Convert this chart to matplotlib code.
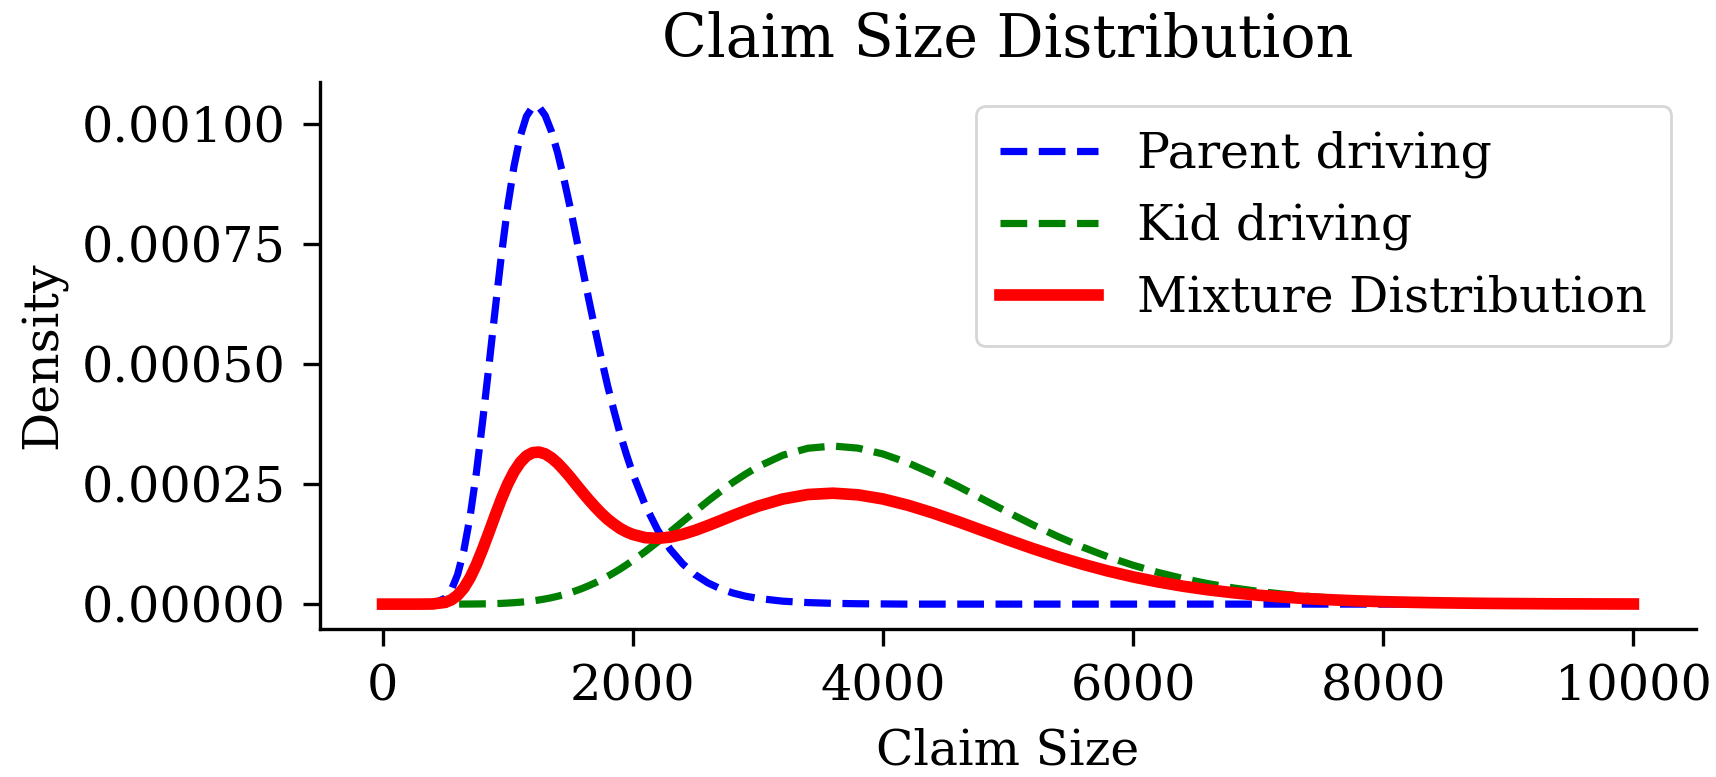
import matplotlib
matplotlib.use("Agg")
import matplotlib.pyplot as plt
from matplotlib.ticker import FormatStrFormatter

# ---- data ----
claim_size = [0, 100, 200, 300, 400,
              500, 550, 600, 650, 700, 750, 800, 850, 900, 950,
              1000, 1050, 1100, 1150, 1200, 1250, 1300, 1350, 1400, 1450,
              1500, 1550, 1600, 1650, 1700, 1750, 1800, 1850, 1900, 1950,
              2000, 2100, 2200, 2300, 2400, 2500, 2600, 2700, 2800, 2900,
              3000, 3200, 3400, 3600, 3800, 4000, 4200, 4400, 4600, 4800,
              5000, 5200, 5400, 5600, 5800, 6000, 6200, 6400, 6600, 6800,
              7000, 7200, 7400, 7600, 7800, 8000, 8200, 8400, 8600, 8800,
              9000, 9200, 9400, 9600, 9800, 10000]

parent_density = [0, 0, 0, 0, 1.0e-6,
                  1.21e-5, 2.96e-5, 6.17e-5, 1.121e-4, 1.83e-4, 2.738e-4, 3.81e-4, 4.958e-4, 6.13e-4, 7.268e-4,
                  8.28e-4, 9.111e-4, 9.74e-4, 1.0162e-3, 1.036e-3, 1.036e-3, 1.018e-3, 9.847e-4, 9.40e-4, 8.856e-4,
                  8.26e-4, 7.621e-4, 6.97e-4, 6.330e-4, 5.71e-4, 5.108e-4, 4.54e-4, 4.027e-4, 3.54e-4, 3.114e-4,
                  2.72e-4, 2.06e-4, 1.54e-4, 1.14e-4, 8.38e-5, 6.12e-5, 4.44e-5, 3.21e-5, 2.32e-5, 1.66e-5,
                  1.20e-5, 6.1e-6, 3.2e-6, 1.6e-6, 8e-7, 4e-7, 0, 0, 0, 0,
                  0, 0, 0, 0, 0, 0, 0, 0, 0, 0,
                  0, 0, 0, 0, 0, 0, 0, 0, 0, 0,
                  0, 0, 0, 0, 0, 0]

kid_density = [0, 0, 0, 0, 0,
               0, 0, 1e-7, 1e-7, 2e-7, 3e-7, 5e-7, 7e-7, 1.1e-6, 1.5e-6,
               2.2e-6, 3.0e-6, 4.0e-6, 5.2e-6, 6.8e-6, 8.6e-6, 1.08e-5, 1.34e-5, 1.64e-5, 1.98e-5,
               2.38e-5, 2.82e-5, 3.31e-5, 3.85e-5, 4.44e-5, 5.09e-5, 5.79e-5, 6.54e-5, 7.33e-5, 8.18e-5,
               9.07e-5, 1.095e-4, 1.297e-4, 1.506e-4, 1.721e-4, 1.934e-4, 2.145e-4, 2.345e-4, 2.535e-4, 2.706e-4,
               2.861e-4, 3.102e-4, 3.247e-4, 3.294e-4, 3.250e-4, 3.128e-4, 2.943e-4, 2.713e-4, 2.455e-4, 2.184e-4,
               1.913e-4, 1.651e-4, 1.407e-4, 1.184e-4, 9.84e-5, 8.10e-5, 6.60e-5, 5.33e-5, 4.26e-5, 3.38e-5,
               2.66e-5, 2.08e-5, 1.62e-5, 1.25e-5, 9.5e-6, 7.3e-6, 5.5e-6, 4.1e-6, 3.1e-6, 2.3e-6,
               1.7e-6, 1.3e-6, 9e-7, 7e-7, 5e-7, 4e-7]

mixture_density = [0, 0, 0, 0, 3.0e-7,
                   3.6e-6, 8.9e-6, 1.85e-5, 3.36e-5, 5.50e-5, 8.24e-5, 1.146e-4, 1.492e-4, 1.847e-4, 2.191e-4,
                   2.499e-4, 2.754e-4, 2.950e-4, 3.086e-4, 3.156e-4, 3.168e-4, 3.130e-4, 3.048e-4, 2.935e-4, 2.796e-4,
                   2.645e-4, 2.483e-4, 2.323e-4, 2.169e-4, 2.024e-4, 1.888e-4, 1.767e-4, 1.666e-4, 1.575e-4, 1.506e-4,
                   1.451e-4, 1.385e-4, 1.370e-4, 1.396e-4, 1.456e-4, 1.538e-4, 1.635e-4, 1.738e-4, 1.844e-4, 1.944e-4,
                   2.039e-4, 2.190e-4, 2.283e-4, 2.311e-4, 2.277e-4, 2.191e-4, 2.060e-4, 1.899e-4, 1.719e-4, 1.529e-4,
                   1.339e-4, 1.156e-4, 9.85e-5, 8.29e-5, 6.89e-5, 5.67e-5, 4.62e-5, 3.73e-5, 2.98e-5, 2.37e-5,
                   1.86e-5, 1.46e-5, 1.13e-5, 8.8e-6, 6.7e-6, 5.1e-6, 3.9e-6, 2.9e-6, 2.2e-6, 1.6e-6,
                   1.2e-6, 9e-7, 6e-7, 5e-7, 3.5e-7, 2.5e-7]

series_labels = ["Parent driving", "Kid driving", "Mixture Distribution"]
x_ticks = [0, 2000, 4000, 6000, 8000, 10000]
y_ticks = [0.0, 0.00025, 0.00050, 0.00075, 0.00100]

title_text = "Claim Size Distribution"
x_label = "Claim Size"
y_label = "Density"

assert len(claim_size) == len(parent_density) == len(kid_density) == len(mixture_density)

# ---- styling ----
plt.rcParams['font.family'] = ['DejaVu Serif']
plt.rcParams['font.size'] = 17.6

fig = plt.figure(figsize=(8.58, 3.885), dpi=200)
ax = fig.add_axes([0.1865, 0.1905, 0.8018, 0.704])

ax.plot(claim_size, parent_density, color='blue', linestyle='--', linewidth=2.6, label=series_labels[0])
ax.plot(claim_size, kid_density, color='green', linestyle='--', linewidth=2.6, label=series_labels[1])
ax.plot(claim_size, mixture_density, color='red', linestyle='-', linewidth=4.2, label=series_labels[2])

ax.set_xticks(x_ticks)
ax.set_yticks(y_ticks)
ax.yaxis.set_major_formatter(FormatStrFormatter('%.5f'))
ax.set_title(title_text, fontsize=21.1, pad=9)
ax.set_xlabel(x_label, labelpad=6)
ax.set_ylabel(y_label, labelpad=5)

for side in ['top', 'right']:
    ax.spines[side].set_visible(False)
for side in ['left', 'bottom']:
    ax.spines[side].set_linewidth(1.2)
ax.tick_params(width=1.2, length=6, pad=6.5, labelsize=17.8)

ax.legend(loc='upper right', borderpad=0.5)

fig.savefig('out.png', dpi=200)
